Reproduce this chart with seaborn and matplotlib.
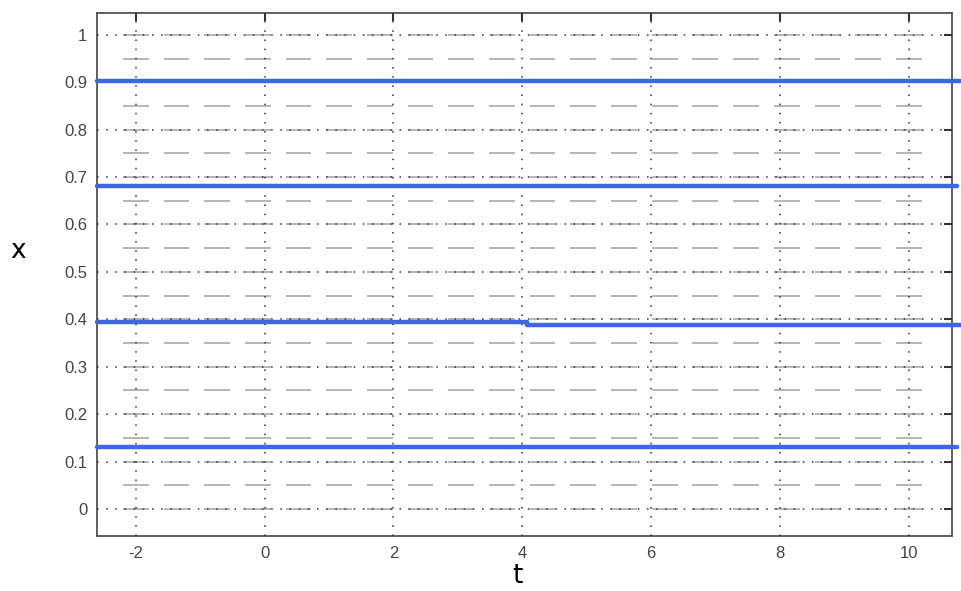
import numpy as np
import pandas as pd
import matplotlib
matplotlib.use("Agg")
import matplotlib.pyplot as plt
import seaborn as sns

# solution curves (constant in t), third one has a tiny step near t=4
sol_t = [[-2.6, 10.8], [-2.6, 10.75], [-2.6, 4.08, 4.08, 10.85], [-2.6, 10.75]]
sol_x = [[0.903, 0.903], [0.681, 0.681], [0.394, 0.394, 0.389, 0.389], [0.131, 0.131]]

# slope field grid (all slopes zero -> horizontal segments)
field_t = np.linspace(-2, 10, 20)
field_x = np.linspace(0, 1, 21)
seg_half = 0.2

xticks = [-2, 0, 2, 4, 6, 8, 10]
xtick_labels = ["-2", "0", "2", "4", "6", "8", "10"]
yticks = [0, 0.1, 0.2, 0.3, 0.4, 0.5, 0.6, 0.7, 0.8, 0.9, 1]
ytick_labels = ["0", "0.1", "0.2", "0.3", "0.4", "0.5", "0.6", "0.7", "0.8", "0.9", "1"]

sns.set_style("white")
plt.rcParams['font.family'] = ['Liberation Sans', 'DejaVu Sans']

fig = plt.figure(figsize=(9.61, 5.91), dpi=100)
ax = fig.add_axes([0.101, 0.093, 0.8896, 0.885])

# gray slope segments
for xv in field_x:
    ax.hlines([xv] * len(field_t), field_t - seg_half, field_t + seg_half,
              color="#b5b5b5", linewidth=1.4, zorder=1)

# solution lines
rows = []
for i, (ts, xs) in enumerate(zip(sol_t, sol_x)):
    for t, x in zip(ts, xs):
        rows.append({"t": t, "x": x, "curve": i})
df = pd.DataFrame(rows)
for i in range(len(sol_t)):
    sub = df[df["curve"] == i]
    sns.lineplot(data=sub, x="t", y="x", ax=ax, color="#3d66e3",
                 linewidth=3.2, sort=False, estimator=None, zorder=3)
for ln in ax.get_lines():
    ln.set_clip_on(False)

ax.set_xlim(-2.6, 10.67)
ax.set_ylim(-0.057, 1.046)
ax.set_xticks(xticks)
ax.set_xticklabels(xtick_labels)
ax.set_yticks(yticks)
ax.set_yticklabels(ytick_labels)
ax.grid(True, linestyle=(0, (1, 5)), color="#333333", linewidth=1.1, zorder=2)
ax.set_axisbelow(False)
ax.tick_params(direction="in", length=6, width=1.5, colors="#333333",
               labelsize=12, top=True, right=True, labelcolor="#444444", pad=7)
for sp in ax.spines.values():
    sp.set_color("#444444")
    sp.set_linewidth(1.2)

ax.set_xlabel("t", fontsize=19, color="black", family=['DejaVu Sans'])
ax.xaxis.set_label_coords(0.492, -0.052)
ax.set_ylabel("x", fontsize=19, rotation=0, color="black", family=['DejaVu Sans'])
ax.yaxis.set_label_coords(-0.092, 0.52)

fig.savefig("out.png", dpi=100)
